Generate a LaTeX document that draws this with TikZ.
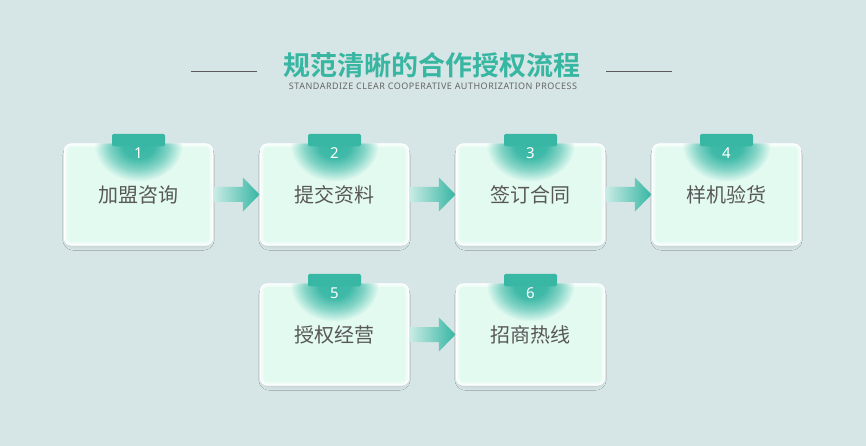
\documentclass[tikz,border=0pt]{standalone}
\usepackage{fontspec}
\usetikzlibrary{shadows.blur,calc,fadings}
\newfontfamily\cjk{Noto Sans CJK SC}
\newfontfamily\cjkb{Noto Sans CJK SC Bold}
\newfontfamily\subf[LetterSpace=5.5]{Noto Sans}
\newfontfamily\numf{Noto Sans}
\definecolor{bg}{HTML}{D6E5E5}
\definecolor{titlec}{HTML}{37B6A2}
\definecolor{subc}{HTML}{666666}
\definecolor{linec}{HTML}{5A5A5A}
\definecolor{cardfill}{HTML}{E3FAF1}
\definecolor{txt}{HTML}{585858}
\definecolor{tabc}{HTML}{38B7A5}
\definecolor{arrL}{HTML}{CBECE6}
\definecolor{arrR}{HTML}{36B6A3}
\pgfdeclareradialshading{glowfs}{\pgfpoint{0bp}{0bp}}{color(0bp)=(transparent!0); color(9bp)=(transparent!5); color(17bp)=(transparent!45); color(25bp)=(transparent!100); color(50bp)=(transparent!100)}
\pgfdeclarefading{glowfade}{\pgfuseshading{glowfs}}
\tikzset{
  card/.style={minimum width=148pt, minimum height=101pt, rounded corners=7pt,
    fill=cardfill, draw=white, line width=1.1pt, inner sep=0pt,
    blur shadow={shadow xshift=0pt, shadow yshift=-3pt, shadow blur radius=4pt, shadow opacity=12, shadow scale=0.97},
    font=\cjk\fontsize{20}{20}\selectfont, text=txt},
  numlabel/.style={font=\numf\fontsize{15}{15}\selectfont, text=white, inner sep=0pt},
  tabbox/.style={fill=tabc, rounded corners=1.5pt},
  arrowbody/.style={left color=arrL, right color=arrR},
  rule/.style={draw=linec, line width=0.9pt}
}
\begin{document}
\begin{tikzpicture}[x=1pt,y=-1pt]
\fill[bg] (0,0) rectangle (866,446);
\useasboundingbox (0,0) rectangle (866,446);

\node[font=\cjkb\fontsize{27}{27}\selectfont, text=titlec, inner sep=0pt] (title) at (432,65.5) {规范清晰的合作授权流程};
\node[font=\subf\fontsize{9}{9}\selectfont, text=subc, inner sep=0pt] (subtitle) at (433,86.5) {STANDARDIZE CLEAR COOPERATIVE AUTHORIZATION PROCESS};
\coordinate (la) at (191,71.5); \coordinate (lb) at (257,71.5);
\coordinate (lc) at (606,71.5); \coordinate (ld) at (672,71.5);
\draw[rule] (la) -- (lb);
\draw[rule] (lc) -- (ld);

\foreach \n/\x/\y/\t in {1/138.5/194.5/加盟咨询, 2/334.5/194.5/提交资料, 3/530.5/194.5/签订合同, 4/726.5/194.5/样机验货, 5/334.5/334.5/授权经营, 6/530.5/334.5/招商热线}{
  \node[card] (c\n) at (\x,\y) {\t};
  \begin{scope}
    \clip[rounded corners=7pt] (c\n.north west) rectangle (c\n.south east);
    \draw[white, opacity=0.45, line width=7pt, rounded corners=7pt] (c\n.north west) rectangle (c\n.south east);
    \fill[tabc, path fading=glowfade] ($(c\n.north)+(0,2)$) ellipse [x radius=44, y radius=36];
  \end{scope}
  \fill[tabbox] ($(c\n.north)+(-26.5,-9.5)$) rectangle ($(c\n.north)+(26.5,3)$);
  \node[numlabel] (n\n) at ($(c\n.north)+(0,9.5)$) {\n};
}

\foreach \a/\b in {1/2, 2/3, 3/4, 5/6}{
  \shade[arrowbody] ($(c\a.east)+(0,-7.5)$) -- ($(c\b.west)+(-17,-7.5)$) -- ($(c\b.west)+(-17,-17)$) -- ($(c\b.west)+(-0.5,0)$) -- ($(c\b.west)+(-17,17)$) -- ($(c\b.west)+(-17,7.5)$) -- ($(c\a.east)+(0,7.5)$) -- cycle;
}
\end{tikzpicture}
\end{document}
